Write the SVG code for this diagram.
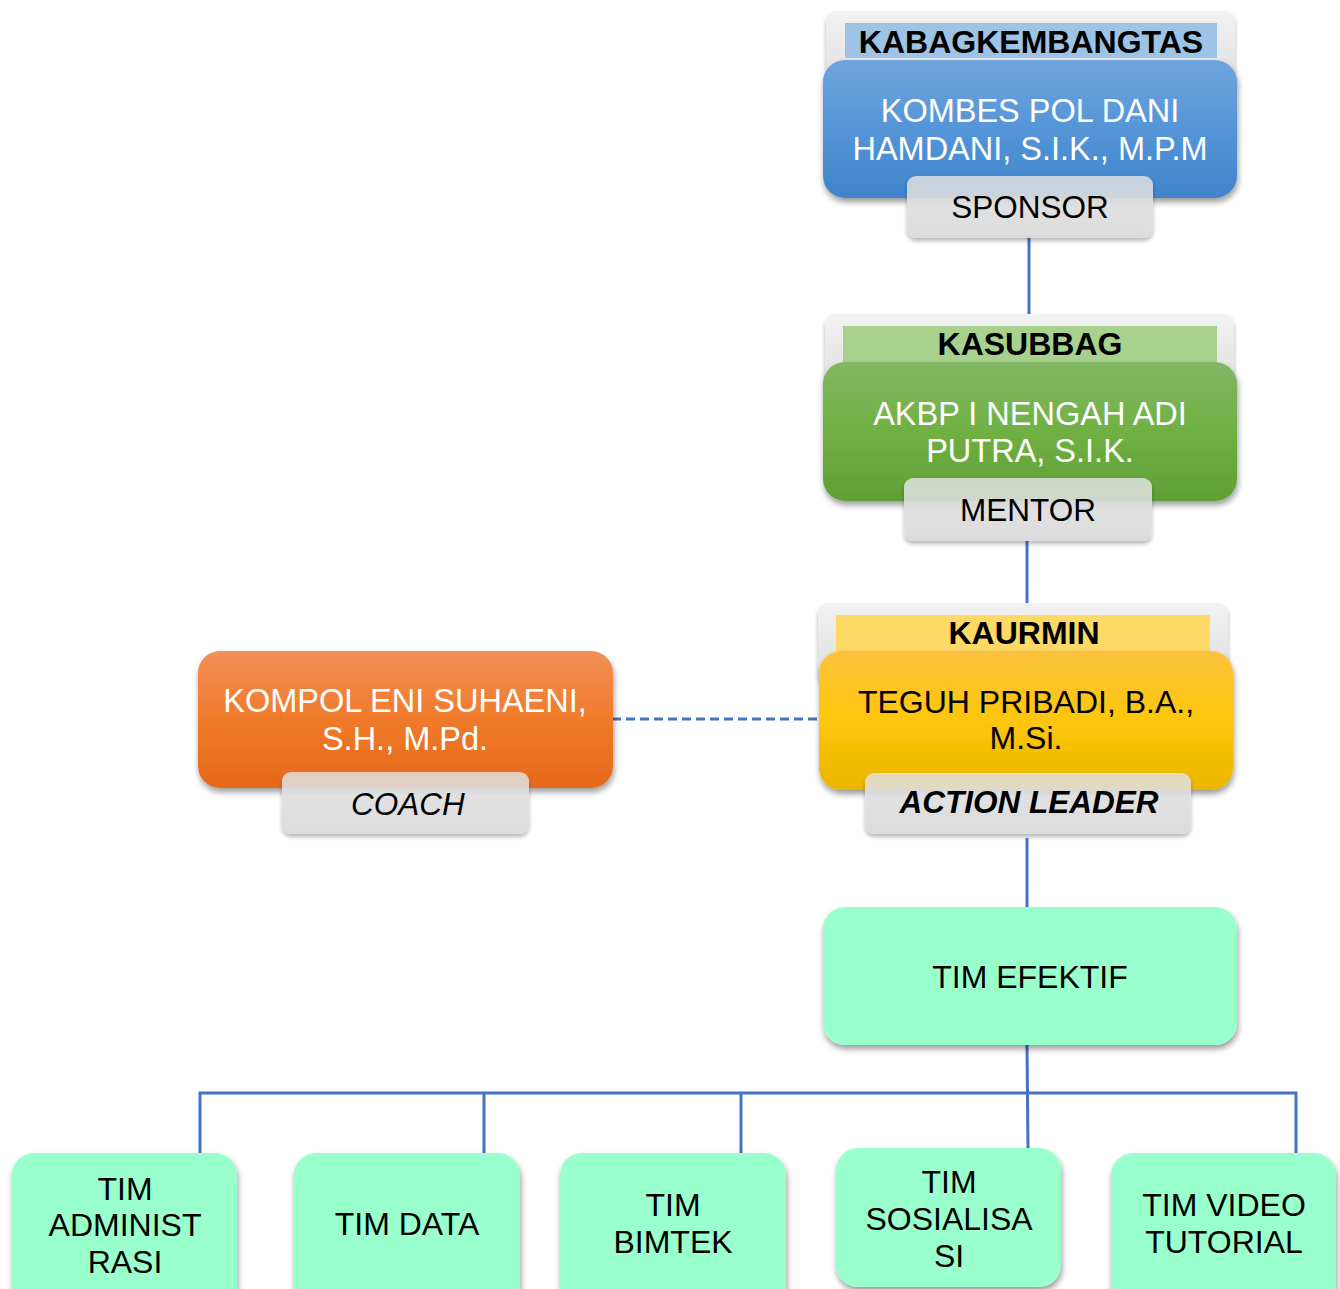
<svg xmlns="http://www.w3.org/2000/svg" width="1340" height="1289" viewBox="0 0 1340 1289">
<defs>
<linearGradient id="gBlue" x1="0" y1="0" x2="0" y2="1"><stop offset="0" stop-color="#6fa4dc"/><stop offset="0.5" stop-color="#5595d8"/><stop offset="1" stop-color="#3f84cb"/></linearGradient>
<linearGradient id="gGreen" x1="0" y1="0" x2="0" y2="1"><stop offset="0" stop-color="#82b763"/><stop offset="0.5" stop-color="#70b043"/><stop offset="1" stop-color="#5f9f35"/></linearGradient>
<linearGradient id="gYellow" x1="0" y1="0" x2="0" y2="1"><stop offset="0" stop-color="#fcc23e"/><stop offset="0.5" stop-color="#fec609"/><stop offset="1" stop-color="#eab600"/></linearGradient>
<linearGradient id="gOrange" x1="0" y1="0" x2="0" y2="1"><stop offset="0" stop-color="#f29058"/><stop offset="0.5" stop-color="#f07a2a"/><stop offset="1" stop-color="#e6681c"/></linearGradient>
<linearGradient id="gGrey" x1="0" y1="0" x2="0" y2="1"><stop offset="0" stop-color="#f2f2f2"/><stop offset="1" stop-color="#dedede"/></linearGradient>
<linearGradient id="gLabel" x1="0" y1="0" x2="0" y2="1"><stop offset="0" stop-color="#e6e6e6" stop-opacity="0.8"/><stop offset="1" stop-color="#dcdcdc" stop-opacity="0.95"/></linearGradient>
<filter id="sh" x="-10%" y="-10%" width="125%" height="130%"><feGaussianBlur in="SourceAlpha" stdDeviation="3"/><feOffset dx="1" dy="4" result="b"/><feComponentTransfer><feFuncA type="linear" slope="0.4"/></feComponentTransfer><feMerge><feMergeNode/><feMergeNode in="SourceGraphic"/></feMerge></filter>
<filter id="shs" x="-10%" y="-10%" width="120%" height="130%"><feGaussianBlur in="SourceAlpha" stdDeviation="2"/><feOffset dx="0" dy="3" result="b"/><feComponentTransfer><feFuncA type="linear" slope="0.3"/></feComponentTransfer><feMerge><feMergeNode/><feMergeNode in="SourceGraphic"/></feMerge></filter>
</defs>
<style>
text{font-family:"Liberation Sans",Arial,sans-serif;text-anchor:middle}
.t{font-size:32.5px;fill:#ffffff}
.tb{font-size:32px;fill:#000000}
.h{font-size:32px;font-weight:bold;fill:#000000}
.lab{font-size:31.5px;fill:#000000}
.conn{stroke:#4472c4;stroke-width:3;fill:none}
.outer{fill:url(#gGrey)}
.label{fill:url(#gLabel)}
.team{fill:#99ffcc}
</style>
<g id="connectors">
<line class="conn" x1="1029" y1="236" x2="1029" y2="316"/>
<line class="conn" x1="1027" y1="540" x2="1027" y2="605"/>
<line class="conn" x1="612" y1="719" x2="819" y2="719" stroke-dasharray="9,5"/>
<line class="conn" x1="1027" y1="838" x2="1027" y2="908"/>
<line class="conn" x1="1027" y1="1045" x2="1028" y2="1148"/>
<polyline class="conn" points="200,1153 200,1093 1296,1093 1296,1153"/>
<line class="conn" x1="484" y1="1093" x2="484" y2="1153"/>
<line class="conn" x1="741" y1="1093" x2="741" y2="1153"/>
</g>
<g id="node-kabag">
<rect class="outer" x="826" y="11" width="409" height="80" rx="10" filter="url(#shs)"/>
<rect x="845" y="23" width="372" height="35" fill="#9dc3e6"/>
<text class="h" x="1031" y="53">KABAGKEMBANGTAS</text>
<rect x="823" y="60" width="414" height="138" rx="22" fill="url(#gBlue)" filter="url(#sh)"/>
<text class="t" x="1030" y="122">KOMBES POL DANI</text>
<text class="t" x="1030" y="160">HAMDANI, S.I.K., M.P.M</text>
<rect class="label" x="907" y="176" width="246" height="62" rx="9" filter="url(#shs)"/>
<text class="lab" x="1030" y="218">SPONSOR</text>
</g>
<g id="node-kasubbag">
<rect class="outer" x="825" y="314" width="409" height="80" rx="10" filter="url(#shs)"/>
<rect x="843" y="326" width="374" height="36" fill="#a9d18e"/>
<text class="h" x="1030" y="355">KASUBBAG</text>
<rect x="823" y="362" width="414" height="139" rx="22" fill="url(#gGreen)" filter="url(#sh)"/>
<text class="t" x="1030" y="425">AKBP I NENGAH ADI</text>
<text class="t" x="1030" y="462">PUTRA, S.I.K.</text>
<rect class="label" x="904" y="478" width="248" height="63" rx="9" filter="url(#shs)"/>
<text class="lab" x="1028" y="521">MENTOR</text>
</g>
<g id="node-kaurmin">
<rect class="outer" x="818" y="603" width="410" height="80" rx="10" filter="url(#shs)"/>
<rect x="836" y="615" width="374" height="36" fill="#ffd966"/>
<text class="h" x="1024" y="644">KAURMIN</text>
<rect x="819" y="651" width="414" height="139" rx="22" fill="url(#gYellow)" filter="url(#sh)"/>
<text class="tb" x="1026" y="713" font-size="32.5">TEGUH PRIBADI, B.A.,</text>
<text class="tb" x="1026" y="749" font-size="32.5">M.Si.</text>
<rect class="label" x="865" y="773" width="326" height="61" rx="9" filter="url(#shs)"/>
<text class="lab" x="1029" y="813" font-weight="bold" font-style="italic">ACTION LEADER</text>
</g>
<g id="node-coach">
<rect x="198" y="651" width="415" height="137" rx="22" fill="url(#gOrange)" filter="url(#sh)"/>
<text class="t" x="405" y="712">KOMPOL ENI SUHAENI,</text>
<text class="t" x="405" y="750">S.H., M.Pd.</text>
<rect class="label" x="282" y="772" width="247" height="62" rx="9" filter="url(#shs)"/>
<text class="lab" x="408" y="815" font-style="italic">COACH</text>
</g>
<g id="node-tim-efektif">
<rect class="team" x="823" y="907" width="414" height="138" rx="22" filter="url(#sh)"/>
<text class="tb" x="1030" y="988">TIM EFEKTIF</text>
</g>
<g id="node-tim-administrasi">
<rect class="team" x="12" y="1153" width="225" height="160" rx="22" filter="url(#sh)"/>
<text class="tb" x="125" y="1200">TIM</text>
<text class="tb" x="125" y="1236">ADMINIST</text>
<text class="tb" x="125" y="1273">RASI</text>
</g>
<g id="node-tim-data">
<rect class="team" x="294" y="1153" width="226" height="160" rx="22" filter="url(#sh)"/>
<text class="tb" x="407" y="1235">TIM DATA</text>
</g>
<g id="node-tim-bimtek">
<rect class="team" x="560" y="1153" width="226" height="160" rx="22" filter="url(#sh)"/>
<text class="tb" x="673" y="1216">TIM</text>
<text class="tb" x="673" y="1253">BIMTEK</text>
</g>
<g id="node-tim-sosialisasi">
<rect class="team" x="836" y="1148" width="225" height="139" rx="22" filter="url(#sh)"/>
<text class="tb" x="949" y="1193">TIM</text>
<text class="tb" x="949" y="1230">SOSIALISA</text>
<text class="tb" x="949" y="1267">SI</text>
</g>
<g id="node-tim-video">
<rect class="team" x="1111" y="1153" width="225" height="160" rx="22" filter="url(#sh)"/>
<text class="tb" x="1224" y="1216">TIM VIDEO</text>
<text class="tb" x="1224" y="1253">TUTORIAL</text>
</g>
</svg>
